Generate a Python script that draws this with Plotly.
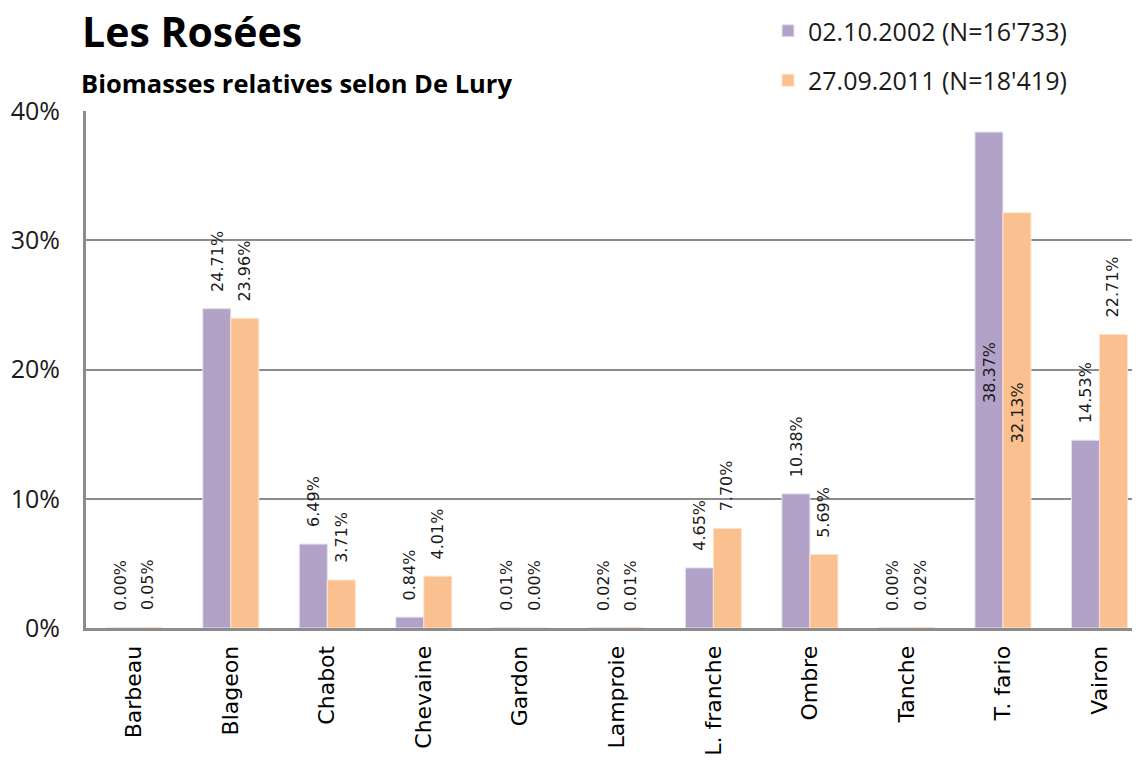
import plotly.graph_objects as go

categories = ["Barbeau", "Blageon", "Chabot", "Chevaine", "Gardon", "Lamproie",
              "L. franche", "Ombre", "Tanche", "T. fario", "Vairon"]
series_2002 = [0.00, 24.71, 6.49, 0.84, 0.01, 0.02, 4.65, 10.38, 0.00, 38.37, 14.53]
series_2011 = [0.05, 23.96, 3.71, 4.01, 0.00, 0.01, 7.70, 5.69, 0.02, 32.13, 22.71]
name_2002 = "02.10.2002 (N=16'733)"
name_2011 = "27.09.2011 (N=18'419)"
inside_labels = ["T. fario"]  # labels drawn inside the bars

PURPLE = "#B3A2C7"
ORANGE = "#FAC090"
GRID = "#8C8C8C"

# the page body has an 8px margin, so the figure is 8px smaller than the window
W, H = 1132, 752
ML, MT, MB = 78, 102, 132
PW, PH = W - ML, H - MT - MB

x_idx = list(range(len(categories)))
BARGAP = 0.42
half = (1 - BARGAP) / 4  # centre offset of each bar in a pair

fig = go.Figure()
fig.add_bar(x=x_idx, y=[v / 100 for v in series_2002], name=name_2002,
            marker=dict(color=PURPLE, line=dict(color="#E6E0EE", width=1)),
            legendgroup="a")
fig.add_bar(x=x_idx, y=[v / 100 for v in series_2011], name=name_2011,
            marker=dict(color=ORANGE, line=dict(color="#FDE3CC", width=1)),
            legendgroup="b")

annotations = []
for i, cat in enumerate(categories):
    for off, val in ((-half, series_2002[i]), (half, series_2011[i])):
        inside = cat in inside_labels
        annotations.append(dict(
            x=i + off, y=(val / 200 if inside else val / 100), xref="x", yref="y",
            text=f"{val:.2f}%", textangle=-90, showarrow=False,
            xanchor="center", yanchor=("middle" if inside else "bottom"),
            yshift=(8 if inside else 15),
            font=dict(family="DejaVu Sans", size=16, color="#1a1a1a")))

annotations.append(dict(
    x=-7 / PW, y=(PH + 28) / PH, xref="paper", yref="paper",
    text="<b>Biomasses relatives selon De Lury</b>", showarrow=False,
    xanchor="left", yanchor="middle",
    font=dict(family="Open Sans", size=25.5, color="#000000")))

fig.update_layout(
    width=W, height=H,
    margin=dict(l=ML, r=0, t=MT, b=MB),
    paper_bgcolor="white", plot_bgcolor="white",
    barmode="group", bargap=BARGAP, bargroupgap=0,
    title=dict(text="<b>Les Rosées</b>", x=74 / W, xref="container",
               xanchor="left", y=1 - 25 / H, yref="container", yanchor="middle",
               pad=dict(l=0, r=0, t=0, b=0),
               font=dict(family="Open Sans", size=41, color="#000000")),
    legend=dict(x=(768 - 86) / PW, y=(PH + 103) / PH, xanchor="left", yanchor="top",
                xref="paper", yref="paper", tracegroupgap=14,
                traceorder="grouped",
                font=dict(family="Open Sans", size=25, color="#1a1a1a"),
                bgcolor="rgba(0,0,0,0)"),
    annotations=annotations,
    showlegend=True,
)

fig.update_xaxes(range=[-0.5, 10.42], tickmode="array", tickvals=x_idx,
                 ticktext=categories, tickangle=-90, showgrid=False,
                 showline=True, linecolor=GRID, linewidth=3, zeroline=False,
                 ticks="", ticklabelstandoff=6, automargin=False,
                 tickfont=dict(family="DejaVu Sans", size=22, color="#000000"))
fig.update_yaxes(range=[0, 0.4], tickvals=[0, 0.1, 0.2, 0.3, 0.4],
                 tickformat=".0%", showgrid=True, gridcolor=GRID, gridwidth=2,
                 showline=True, linecolor=GRID, linewidth=3, zeroline=False,
                 ticks="", ticklabelstandoff=18, automargin=False,
                 tickfont=dict(family="Open Sans", size=25, color="#1a1a1a"))

fig.write_html("out.html")
